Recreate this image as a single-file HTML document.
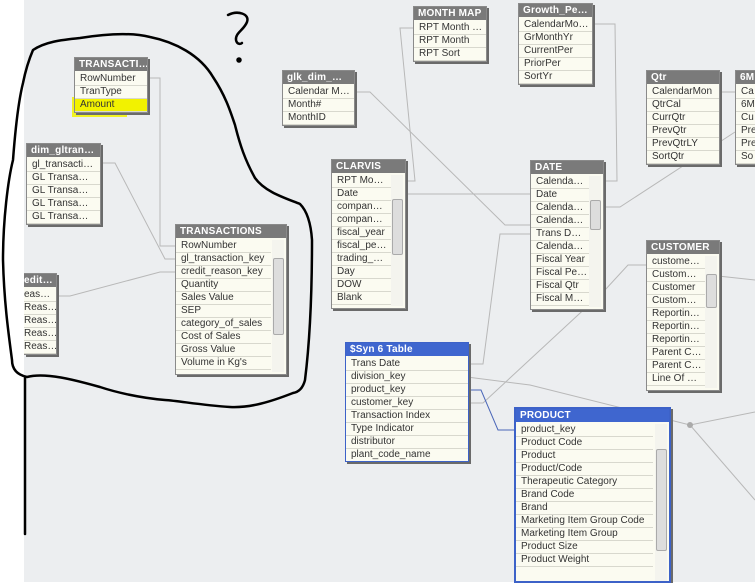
<!DOCTYPE html>
<html><head><meta charset="utf-8"><style>
body{margin:0;width:755px;height:582px;overflow:hidden;background:#fff;font-family:"Liberation Sans",sans-serif;position:relative}
#bg{position:absolute;left:24px;top:0;width:731px;height:582px;background:#eceef0;}
.t{position:absolute;background:#fbfbf1;border:1px solid #8a8a8a;box-shadow:2px 2px 0 #6a6a6a;}
.h{background:#7a7a7a;color:#fff;font-weight:bold;font-size:10px;height:13px;line-height:13px;padding-left:4px;white-space:nowrap;overflow:hidden;margin-bottom:2px;letter-spacing:0.2px}
.b{border-color:#3d62c8}.b .h{background:#3f66cf}
.r{height:12px;line-height:12px;border-bottom:1px solid #d8d8ce;padding-left:5px;font-size:10px;color:#333;white-space:nowrap;overflow:hidden}
.sb{position:absolute;right:2px;width:12px;background:#f4f4ee}
.sb .th{position:absolute;left:1px;width:9px;background:#ddd;border:1px solid #aaa;border-radius:2px}
</style></head><body>
<div id="bg"></div>
<svg width="755" height="582" style="position:absolute;left:0;top:0">
<g stroke="#b8b8b8" stroke-width="1" fill="none">
<path d="M147 78 L160 78 L160 246 L175 246"/>
<path d="M99 163 L115 163 L165 259 L175 259"/>
<path d="M56 296 L70 296 L160 272 L175 272"/>
<path d="M353 92 L370 92 L505 225 L530 225"/>
<path d="M413 28 L400 28 L415 181 L404 181"/>
<path d="M404 194 L530 194"/>
<path d="M591 24 L615 24 L617 181 L602 181"/>
<path d="M646 92 L735 92"/>
<path d="M735 132 L620 207 L602 207"/>
<path d="M467 364 L483 364 L500 234 L530 234"/>
<path d="M467 377 L530 385 L690 425 L755 412"/>
<path d="M467 403 L483 403 L605 290 L628 265 L646 265"/>
<path d="M718 276 L755 280"/>
<path d="M690 425 L755 500"/>
</g>
<path d="M467 390 L481 390 L498 430 L514 430" stroke="#4a66b8" fill="none"/>
<circle cx="690" cy="425" r="3" fill="#aaa"/>
<g stroke="#000" stroke-width="2.5" fill="none" stroke-linecap="round">
<path d="M33 50 C45 42 60 40 80 38 C105 34 130 32 150 37 C175 42 200 55 213 77 C225 95 230 110 235 125 C240 145 245 160 255 178 C265 192 285 198 300 204 C308 212 311 225 312 240 C312 290 310 340 305 380 C303 388 299 392 293 393 C270 402 250 408 230 407 C200 405 180 401 165 400 C140 398 115 392 100 387 C75 380 45 372 27 377 C18 375 12 370 12 360 C8 330 4 300 3 260 C3 220 8 180 13 160 C16 120 20 95 23 83 C26 68 30 57 33 50"/>
<path d="M25 378 L25 534"/>
<path d="M228 15 C238 10 250 14 247 22 C244 30 235 33 236 40 C237 45 241 44 242 43"/>
<circle cx="239" cy="60" r="1.5" fill="#000"/>
<path d="M349 445 C348 435 360 434 385 434 C405 434 411 436 411 450 L365 451 L348 448" stroke-width="2"/>
<path d="M520 475 C545 478 570 476 586 474" stroke-width="2"/>
<path d="M516 517 L553 517" stroke-width="2"/>
</g>
<rect x="72" y="97" width="55" height="20" fill="#f2f200" opacity="0.85"/>
</svg>

<div class="t" style="left:74px;top:57px;width:72px"><div class="h">TRANSACTI…</div><div class="r">RowNumber</div><div class="r">TranType</div><div class="r" style="background:#f2f200">Amount</div></div>
<div class="t" style="left:282px;top:70px;width:71px"><div class="h">glk_dim_…</div><div class="r">Calendar M…</div><div class="r">Month#</div><div class="r">MonthID</div></div>
<div class="t" style="left:26px;top:143px;width:73px"><div class="h">dim_gltran…</div><div class="r">gl_transacti…</div><div class="r">GL Transa…</div><div class="r">GL Transa…</div><div class="r">GL Transa…</div><div class="r">GL Transa…</div></div>
<div class="t" style="left:24px;top:273px;width:32px;border-left:none"><div class="h" style="padding-left:0">edit…</div><div class="r" style="padding-left:0">eas…</div><div class="r" style="padding-left:0">Reas…</div><div class="r" style="padding-left:0">Reas…</div><div class="r" style="padding-left:0">Reas…</div><div class="r" style="padding-left:0">Reas…</div></div>
<div class="t" style="left:175px;top:224px;width:110px"><div class="h">TRANSACTIONS</div>
<div style="margin-right:15px"><div class="r">RowNumber</div><div class="r">gl_transaction_key</div><div class="r">credit_reason_key</div><div class="r">Quantity</div><div class="r">Sales Value</div><div class="r">SEP</div><div class="r">category_of_sales</div><div class="r">Cost of Sales</div><div class="r">Gross Value</div><div class="r">Volume in Kg's</div></div><div style="height:4px"></div>
<div class="sb" style="top:15px;bottom:2px"><div class="th" style="top:18px;height:75px"></div></div></div>
<div class="t" style="left:331px;top:159px;width:73px"><div class="h">CLARVIS</div>
<div style="margin-right:14px"><div class="r">RPT Mo…</div><div class="r">Date</div><div class="r">compan…</div><div class="r">compan…</div><div class="r">fiscal_year</div><div class="r">fiscal_pe…</div><div class="r">trading_…</div><div class="r">Day</div><div class="r">DOW</div><div class="r">Blank</div></div><div style="height:3px"></div>
<div class="sb" style="top:15px;bottom:2px"><div class="th" style="top:24px;height:54px"></div></div></div>
<div class="t" style="left:413px;top:6px;width:72px"><div class="h">MONTH MAP</div><div class="r">RPT Month …</div><div class="r">RPT Month</div><div class="r">RPT Sort</div></div>
<div class="t" style="left:518px;top:3px;width:73px"><div class="h">Growth_Pe…</div><div class="r">CalendarMo…</div><div class="r">GrMonthYr</div><div class="r">CurrentPer</div><div class="r">PriorPer</div><div class="r">SortYr</div></div>
<div class="t" style="left:530px;top:160px;width:72px"><div class="h">DATE</div>
<div style="margin-right:14px"><div class="r">Calenda…</div><div class="r">Date</div><div class="r">Calenda…</div><div class="r">Calenda…</div><div class="r">Trans D…</div><div class="r">Calenda…</div><div class="r">Fiscal Year</div><div class="r">Fiscal Pe…</div><div class="r">Fiscal Qtr</div><div class="r">Fiscal M…</div></div><div style="height:3px"></div>
<div class="sb" style="top:15px;bottom:2px"><div class="th" style="top:24px;height:28px"></div></div></div>
<div class="t" style="left:646px;top:70px;width:72px"><div class="h">Qtr</div><div class="r">CalendarMon</div><div class="r">QtrCal</div><div class="r">CurrQtr</div><div class="r">PrevQtr</div><div class="r">PrevQtrLY</div><div class="r">SortQtr</div></div>
<div class="t" style="left:735px;top:70px;width:40px"><div class="h">6M</div><div class="r">Ca</div><div class="r">6M</div><div class="r">Cu</div><div class="r">Pre</div><div class="r">Pre</div><div class="r">So</div></div>
<div class="t" style="left:646px;top:240px;width:72px"><div class="h">CUSTOMER</div>
<div style="margin-right:14px"><div class="r">custome…</div><div class="r">Custom…</div><div class="r">Customer</div><div class="r">Custom…</div><div class="r">Reportin…</div><div class="r">Reportin…</div><div class="r">Reportin…</div><div class="r">Parent C…</div><div class="r">Parent C…</div><div class="r">Line Of …</div></div><div style="height:4px"></div>
<div class="sb" style="top:15px;bottom:2px"><div class="th" style="top:18px;height:32px"></div></div></div>
<div class="t b" style="left:345px;top:342px;width:122px"><div class="h">$Syn 6 Table</div><div class="r">Trans Date</div><div class="r">division_key</div><div class="r">product_key</div><div class="r">customer_key</div><div class="r">Transaction Index</div><div class="r">Type Indicator</div><div class="r">distributor</div><div class="r" style="border:none">plant_code_name</div></div>
<div class="t b" style="left:514px;top:407px;width:153px;height:172px;border-width:2px"><div class="h">PRODUCT</div>
<div style="margin-right:16px"><div class="r">product_key</div><div class="r">Product Code</div><div class="r">Product</div><div class="r">Product/Code</div><div class="r">Therapeutic Category</div><div class="r">Brand Code</div><div class="r">Brand</div><div class="r">Marketing Item Group Code</div><div class="r">Marketing Item Group</div><div class="r">Product Size</div><div class="r">Product Weight</div></div>
<div class="sb" style="top:15px;bottom:0"><div class="th" style="top:25px;height:100px"></div></div></div>
</body></html>
